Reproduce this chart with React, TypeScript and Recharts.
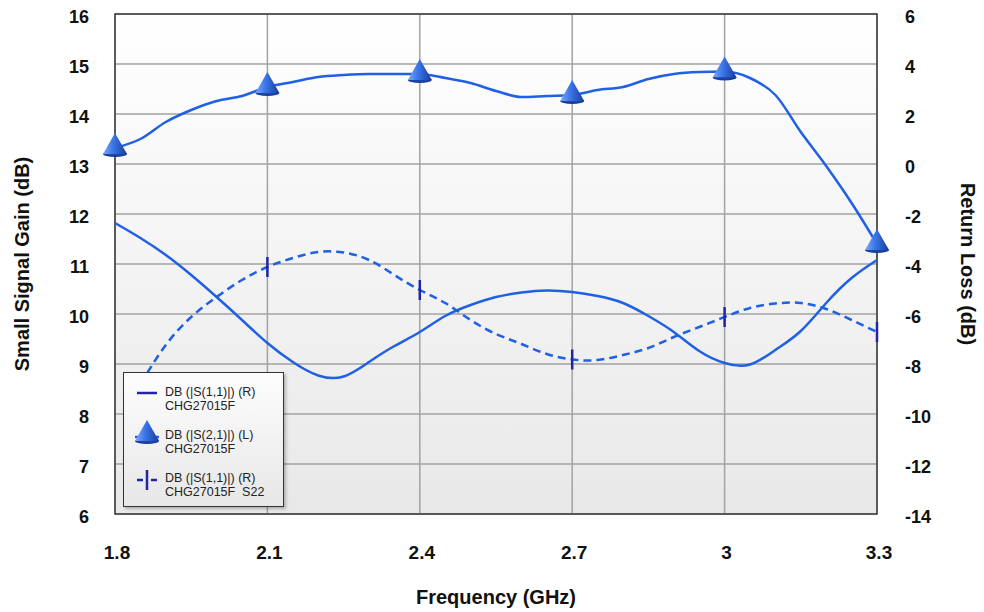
import React from "react";
import { ComposedChart, Line, XAxis, YAxis, CartesianGrid, Legend, ReferenceArea, Label } from "recharts";

const freqs = [
  1.8, 1.85, 1.9, 1.95, 2.0, 2.05, 2.1, 2.15, 2.2, 2.25, 2.3, 2.35, 2.4, 2.45, 2.5, 2.55,
  2.6, 2.65, 2.7, 2.75, 2.8, 2.85, 2.9, 2.95, 3.0, 3.05, 3.1, 3.15, 3.2, 3.25, 3.3,
];
// S21, left axis
const gainS21 = [
  13.32, 13.5, 13.84, 14.08, 14.26, 14.36, 14.54, 14.64, 14.74, 14.78, 14.8, 14.8, 14.8, 14.72, 14.62, 14.46,
  14.34, 14.36, 14.38, 14.48, 14.54, 14.7, 14.8, 14.84, 14.85, 14.72, 14.38, 13.64, 12.96, 12.22, 11.4,
];
// S11, right axis
const lossS11 = [
  -2.36, -2.96, -3.64, -4.44, -5.32, -6.24, -7.16, -7.92, -8.46, -8.5, -7.92, -7.28, -6.72, -6.08, -5.64, -5.32,
  -5.14, -5.06, -5.12, -5.28, -5.56, -6.08, -6.72, -7.48, -7.96, -8.02, -7.44, -6.68, -5.56, -4.56, -3.84,
];
// S22, right axis
const lossS22 = [
  null, -8.8, -7.24, -6.12, -5.32, -4.64, -4.12, -3.76, -3.52, -3.54, -3.84, -4.44, -5.04, -5.56, -6.24, -6.8,
  -7.2, -7.6, -7.82, -7.84, -7.64, -7.36, -6.92, -6.52, -6.12, -5.76, -5.58, -5.56, -5.8, -6.24, -6.72,
];
const markerFreqs = [1.8, 2.1, 2.4, 2.7, 3.0, 3.3];
const xTicks = [1.8, 2.1, 2.4, 2.7, 3.0, 3.3];
const gainTicks = [6, 7, 8, 9, 10, 11, 12, 13, 14, 15, 16];
const lossTicks = [-14, -12, -10, -8, -6, -4, -2, 0, 2, 4, 6];

const data = freqs.map((f, i) => ({ freq: f, gain: gainS21[i], s11: lossS11[i], s22: lossS22[i] }));

const BLUE = "#1f60e4";
const NAVY = "#2323a8";
const FONT = "'Liberation Sans', Arial, sans-serif";
const tickStyle = { fontFamily: FONT, fontWeight: 700, fontSize: 18, fill: "#111" };
const titleStyle = { fontFamily: FONT, fontWeight: 700, fontSize: 20, fill: "#111" };

const isMarker = (f: number) => markerFreqs.some((m) => Math.abs(m - f) < 1e-6);

const Cone = ({ cx, cy, grad }: { cx: number; cy: number; grad: string }) => (
  <g>
    <ellipse cx={cx} cy={cy + 6} rx={12} ry={3} fill="#173a96" />
    <polygon points={`${cx},${cy - 15} ${cx - 12},${cy + 6} ${cx + 12},${cy + 6}`} fill={`url(#${grad})`} />
    <path d={`M${cx - 12},${cy + 6} Q${cx},${cy + 10} ${cx + 12},${cy + 6}`} fill="#1d44a8" />
  </g>
);

const ConeGradient = ({ id }: { id: string }) => (
  <linearGradient id={id} x1="0" y1="0" x2="1" y2="0">
    <stop offset="0%" stopColor="#7eaaf6" />
    <stop offset="40%" stopColor="#3d78ea" />
    <stop offset="100%" stopColor="#163c9c" />
  </linearGradient>
);

const coneDot = (p: any) =>
  p.payload && isMarker(p.payload.freq) && p.cx != null ? (
    <Cone key={`c${p.index}`} cx={p.cx} cy={p.cy} grad="coneGrad" />
  ) : (
    <g key={`c${p.index}`} />
  );

const tickDot = (p: any) =>
  p.payload && isMarker(p.payload.freq) && p.cy != null ? (
    <line key={`t${p.index}`} x1={p.cx} x2={p.cx} y1={p.cy - 10} y2={p.cy + 10} stroke={NAVY} strokeWidth={2.5} />
  ) : (
    <g key={`t${p.index}`} />
  );

const LeftTick = ({ x, y, payload }: any) => (
  <text x={x} y={y + 3} textAnchor="end" dominantBaseline="central" style={tickStyle}>
    {payload.value}
  </text>
);
const RightTick = ({ x, y, payload }: any) => (
  <text x={x} y={y + 3} textAnchor="start" dominantBaseline="central" style={tickStyle}>
    {payload.value}
  </text>
);
const BottomTick = ({ x, y, payload }: any) => (
  <text x={x + 2} y={y} textAnchor="middle" dominantBaseline="central" style={{ ...tickStyle, fontSize: 19 }}>
    {payload.value}
  </text>
);

const legendText: React.CSSProperties = {
  position: "absolute",
  left: 41,
  fontFamily: FONT,
  fontSize: 12.5,
  color: "#222",
  lineHeight: "14px",
  whiteSpace: "pre",
};

const LegendBox = () => (
  <div
    style={{
      position: "relative",
      width: 161,
      height: 135,
      boxSizing: "border-box",
      border: "1px solid #333",
      background: "linear-gradient(#fdfdfd, #e7e7e7)",
      boxShadow: "2px 2px 3px rgba(0,0,0,0.25)",
    }}
  >
    <svg width={161} height={135} style={{ position: "absolute", left: 0, top: 0 }}>
      <defs>
        <ConeGradient id="coneLegend" />
      </defs>
      <line x1={13} x2={33} y1={20} y2={20} stroke={NAVY} strokeWidth={2.5} />
      <line x1={11} x2={35} y1={64} y2={64} stroke={BLUE} strokeWidth={2.5} />
      <Cone cx={23} cy={62} grad="coneLegend" />
      <line x1={13} x2={19} y1={107} y2={107} stroke={NAVY} strokeWidth={2.5} />
      <line x1={27} x2={33} y1={107} y2={107} stroke={NAVY} strokeWidth={2.5} />
      <line x1={23} x2={23} y1={97} y2={117} stroke={NAVY} strokeWidth={2.5} />
    </svg>
    <div style={{ ...legendText, top: 12 }}>{"DB (|S(1,1)|) (R)\nCHG27015F"}</div>
    <div style={{ ...legendText, top: 55 }}>{"DB (|S(2,1)|) (L)\nCHG27015F"}</div>
    <div style={{ ...legendText, top: 98 }}>{"DB (|S(1,1)|) (R)\nCHG27015F  S22"}</div>
  </div>
);

export default function App() {
  return (
    <div style={{ position: "absolute", left: 0, top: 0, width: 984, height: 612, background: "#fff" }}>
      <ComposedChart width={984} height={612} data={data} margin={{ top: 14, right: 0, bottom: 0, left: 0 }}>
        <defs>
          <linearGradient id="plotBg" x1="0" y1="0" x2="0" y2="1">
            <stop offset="0%" stopColor="#ffffff" />
            <stop offset="100%" stopColor="#e8e8e8" />
          </linearGradient>
          <ConeGradient id="coneGrad" />
        </defs>
        <CartesianGrid yAxisId="left" fill="url(#plotBg)" stroke="#a2a2a2" strokeWidth={1.5} />
        <XAxis
          dataKey="freq"
          type="number"
          domain={[1.8, 3.3]}
          ticks={xTicks}
          height={98}
          axisLine={false}
          tickLine={false}
          tickSize={0}
          tickMargin={38}
          tick={<BottomTick />}
          interval={0}
        >
          <Label
            content={({ viewBox }: any) => (
              <text
                x={viewBox.x + viewBox.width / 2}
                y={viewBox.y + 83}
                textAnchor="middle"
                dominantBaseline="central"
                style={titleStyle}
              >
                Frequency (GHz)
              </text>
            )}
          />
        </XAxis>
        <YAxis
          yAxisId="left"
          orientation="left"
          width={115}
          domain={[6, 16]}
          ticks={gainTicks}
          axisLine={false}
          tickLine={false}
          tickSize={0}
          tickMargin={26}
          tick={<LeftTick />}
          interval={0}
        >
          <Label
            content={({ viewBox }: any) => {
              const cx = viewBox.x + 22;
              const cy = viewBox.y + viewBox.height / 2;
              return (
                <text
                  x={cx}
                  y={cy}
                  transform={`rotate(-90 ${cx} ${cy})`}
                  textAnchor="middle"
                  dominantBaseline="central"
                  style={titleStyle}
                >
                  Small Signal Gain (dB)
                </text>
              );
            }}
          />
        </YAxis>
        <YAxis
          yAxisId="right"
          orientation="right"
          width={107}
          domain={[-14, 6]}
          ticks={lossTicks}
          axisLine={false}
          tickLine={false}
          tickSize={0}
          tickMargin={28}
          tick={<RightTick />}
          interval={0}
        >
          <Label
            content={({ viewBox }: any) => {
              const cx = viewBox.x + 91;
              const cy = viewBox.y + viewBox.height / 2;
              return (
                <text
                  x={cx}
                  y={cy}
                  transform={`rotate(90 ${cx} ${cy})`}
                  textAnchor="middle"
                  dominantBaseline="central"
                  style={titleStyle}
                >
                  Return Loss (dB)
                </text>
              );
            }}
          />
        </YAxis>
        <ReferenceArea
          yAxisId="left"
          x1={1.8}
          x2={3.3}
          y1={6}
          y2={16}
          fill="none"
          stroke="#3c3c3c"
          strokeWidth={1.5}
          ifOverflow="visible"
        />
        <Line
          yAxisId="right"
          dataKey="s11"
          type="natural"
          stroke={BLUE}
          strokeWidth={2.5}
          dot={false}
          activeDot={false}
          isAnimationActive={false}
        />
        <Line
          yAxisId="right"
          dataKey="s22"
          type="natural"
          stroke={BLUE}
          strokeWidth={2.5}
          strokeDasharray="8 5"
          dot={tickDot}
          activeDot={false}
          isAnimationActive={false}
        />
        <Line
          yAxisId="left"
          dataKey="gain"
          type="monotone"
          stroke={BLUE}
          strokeWidth={2.5}
          dot={coneDot}
          activeDot={false}
          isAnimationActive={false}
        />
        <Legend
          layout="horizontal"
          verticalAlign="middle"
          align="center"
          content={<LegendBox />}
          wrapperStyle={{ left: 123, top: 372, width: 161, height: 135 }}
        />
      </ComposedChart>
    </div>
  );
}
